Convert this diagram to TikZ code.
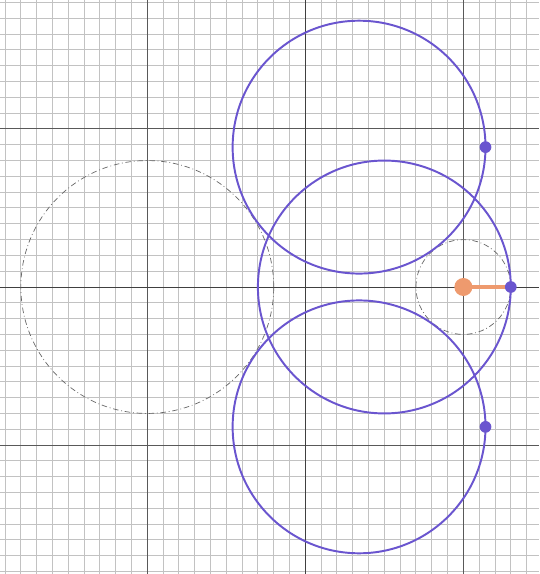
\documentclass[tikz,border=0pt]{standalone}
\usepackage{tikz}
\definecolor{minorgray}{rgb}{0.76,0.76,0.76}
\definecolor{majorgray}{rgb}{0.35,0.35,0.35}
\definecolor{circpurple}{rgb}{0.416,0.333,0.812}
\definecolor{dotorange}{rgb}{0.933,0.604,0.431}
\definecolor{guidegray}{rgb}{0.40,0.40,0.40}

\begin{document}
\begin{tikzpicture}[x=4cm,y=4cm,
  purplecircle/.style={circpurple, line width=1.4pt},
  guidecircle/.style={guidegray, line width=0.5pt, dash pattern=on 4pt off 2pt on 0.6pt off 2pt}]
  \useasboundingbox (-1.932,-1.816) rectangle (1.479,1.816);
  \fill[white] (-1.932,-1.816) rectangle (1.479,1.816);
  
  % grid
  \draw[minorgray, line width=0.7pt, step=0.1] (-1.932,-1.816) grid (1.479,1.816);
  \draw[majorgray, line width=0.7pt, step=1] (-1.932,-1.816) grid (1.479,1.816);
  \draw[black!75, line width=0.7pt] (-1.932,0) -- (1.479,0);
  \draw[black!75, line width=0.7pt] (0,-1.816) -- (0,1.816);
  
  % guide circles
  \draw[guidecircle] (-1,0) circle (0.8);
  \draw[guidecircle] (1,0) circle (0.3);
  
  % moving circles
  \draw[purplecircle] (0.34,0.885) circle (0.8);
  \draw[purplecircle] (0.5,0) circle (0.8);
  \draw[purplecircle] (0.34,-0.885) circle (0.8);
  
  \coordinate (hub) at (1,0);
  \coordinate (tip) at (1.3,0);
  \coordinate (tipup) at (0.34+0.8,0.885);
  \coordinate (tipdown) at (0.34+0.8,-0.885);
  
  \draw[dotorange, line width=2.2pt] (hub) -- (tip);
  \fill[dotorange] (hub) circle (0.057);
  \fill[circpurple] (tip) circle (0.037);
  \fill[circpurple] (tipup) circle (0.037);
  \fill[circpurple] (tipdown) circle (0.037);
\end{tikzpicture}
\end{document}
